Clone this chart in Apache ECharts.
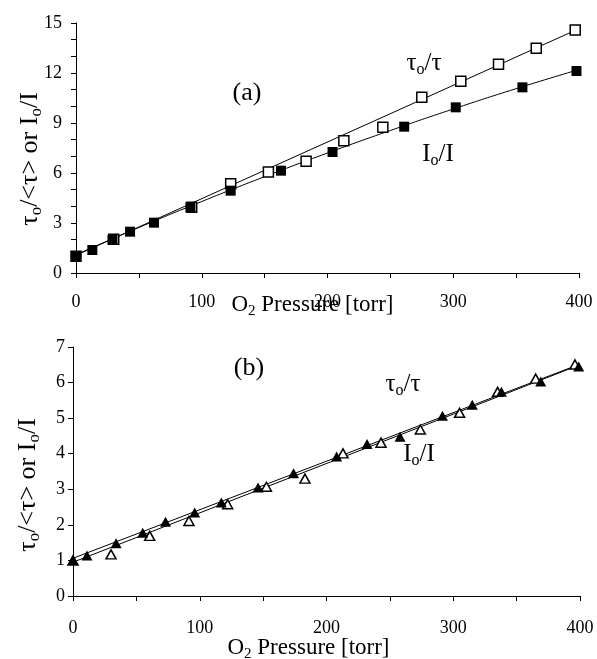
<!DOCTYPE html>
<html>
<head>
<meta charset="utf-8">
<script src="https://cdn.jsdelivr.net/npm/echarts@6/dist/echarts.min.js"></script>
<style>html,body{margin:0;padding:0;background:#fff;}#c{width:597px;height:659px;}</style>
</head>
<body>
<div id="c"></div>
<script>
// Panel (a): squares
var topTauX = [0, 30, 92, 123, 153, 183, 213, 244, 275, 306, 336, 366, 397];
var topTauY = [1.0, 2.02, 3.94, 5.35, 6.06, 6.70, 7.94, 8.74, 10.54, 11.50, 12.52, 13.48, 14.58];
var topIntX = [0, 13, 29, 43, 62, 91, 123, 163, 204, 261, 302, 355, 398];
var topIntY = [1.02, 1.38, 1.98, 2.48, 3.02, 3.94, 4.94, 6.14, 7.26, 8.78, 9.94, 11.14, 12.12];
// fitted curves of panel (a), vertices
var topFitTauX = [0, 400];
var topFitTauY = [1.06, 14.66];
var topFitIntX = [0, 50, 100, 150, 200, 250, 300, 350, 400];
var topFitIntY = [1.10, 2.73, 4.29, 5.78, 7.20, 8.55, 9.84, 11.06, 12.21];

// Panel (b): triangles
var botTauX = [0, 30, 60.5, 91.5, 122, 152.6, 183, 213, 243, 274, 305, 335, 365, 396];
var botTauY = [1.0, 1.17, 1.69, 2.11, 2.58, 3.07, 3.30, 4.01, 4.31, 4.68, 5.15, 5.74, 6.11, 6.51];
var botIntX = [0, 11, 34, 55, 73, 96, 117, 146, 174, 208, 232, 258, 291.5, 315, 338, 369, 399];
var botIntY = [1.01, 1.14, 1.48, 1.78, 2.09, 2.35, 2.63, 3.05, 3.45, 3.92, 4.27, 4.48, 5.07, 5.38, 5.74, 6.03, 6.45];
var botFitIntX = [0, 400];
var botFitIntY = [1.06, 6.52];
var botFitTauX = [0, 400];
var botFitTauY = [0.95, 6.50];

// tick labels
var topYLabels = [0, 3, 6, 9, 12, 15];
var xLabels = [0, 100, 200, 300, 400];

function pairs(xs, ys) { return xs.map(function (x, i) { return [x, ys[i]]; }); }

var FONT = 'Liberation Serif';
function mkRich(fs, sub, lh) {
  return {
    n: { fontFamily: FONT, fontSize: fs, color: '#000', lineHeight: lh, verticalAlign: 'middle' },
    s: { fontFamily: FONT, fontSize: sub, color: '#000', lineHeight: lh, verticalAlign: 'bottom' }
  };
}
var richAxis = mkRich(23, 15, 28);
var richY = mkRich(26, 17, 30);
var richLab = mkRich(25, 16, 29);

function xAxisDef(gi, margin, nameGap, pad) {
  return {
    type: 'value', gridIndex: gi, min: 0, max: 400, interval: 50,
    axisLine: { show: true, onZero: false, lineStyle: { color: '#000', width: 1 } },
    axisTick: { show: true, inside: false, length: 5, lineStyle: { color: '#000' } },
    splitLine: { show: false },
    axisLabel: {
      fontFamily: FONT, fontSize: 18, color: '#000', margin: margin,
      formatter: function (v) { return xLabels.indexOf(v) >= 0 ? String(v) : ''; }
    },
    name: '{n|O}{s|2}{n| Pressure [torr]}',
    nameLocation: 'middle', nameGap: nameGap, nameMoveOverlap: false,
    nameTextStyle: { rich: richAxis, padding: pad }
  };
}

var option = {
  animation: false,
  backgroundColor: '#fff',
  grid: [
    { left: 76, top: 23, width: 503, height: 250, containLabel: false, outerBoundsMode: 'none' },
    { left: 73, top: 347, width: 507, height: 249, containLabel: false, outerBoundsMode: 'none' }
  ],
  xAxis: [
    xAxisDef(0, 20, 18, [0, 30, 0, 0]),
    xAxisDef(1, 23, 38, [0, 36, 0, 0])
  ],
  yAxis: [
    {
      type: 'value', gridIndex: 0, min: 0, max: 15, interval: 1,
      axisLine: { show: true, onZero: false, lineStyle: { color: '#000', width: 1 } },
      axisTick: { show: true, length: 5, lineStyle: { color: '#000' } },
      splitLine: { show: false },
      axisLabel: {
        fontFamily: FONT, fontSize: 18, color: '#000', margin: 14,
        formatter: function (v) { return topYLabels.indexOf(v) >= 0 ? String(v) : ''; }
      }
    },
    {
      type: 'value', gridIndex: 1, min: 0, max: 7, interval: 1,
      axisLine: { show: true, onZero: false, lineStyle: { color: '#000', width: 1 } },
      axisTick: { show: true, length: 5, lineStyle: { color: '#000' } },
      splitLine: { show: false },
      axisLabel: { fontFamily: FONT, fontSize: 18, color: '#000', margin: 8 }
    }
  ],
  graphic: [
    { type: 'text', x: 30, y: 159, rotation: Math.PI / 2,
      style: { text: '{n|τ}{s|o}{n|/<τ> or I}{s|o}{n|/I}', rich: richY, align: 'center', verticalAlign: 'middle' } },
    { type: 'text', x: 28, y: 485, rotation: Math.PI / 2,
      style: { text: '{n|τ}{s|o}{n|/<τ> or I}{s|o}{n|/I}', rich: richY, align: 'center', verticalAlign: 'middle' } },
    { type: 'text', x: 247, y: 93, style: { text: '(a)', font: '26px "Liberation Serif"', fill: '#000', align: 'center', verticalAlign: 'middle' } },
    { type: 'text', x: 249, y: 368, style: { text: '(b)', font: '26px "Liberation Serif"', fill: '#000', align: 'center', verticalAlign: 'middle' } },
    { type: 'text', x: 424, y: 63, style: { text: '{n|τ}{s|o}{n|/τ}', rich: richLab, align: 'center', verticalAlign: 'middle' } },
    { type: 'text', x: 438, y: 154, style: { text: '{n|I}{s|o}{n|/I}', rich: richLab, align: 'center', verticalAlign: 'middle' } },
    { type: 'text', x: 403, y: 384, style: { text: '{n|τ}{s|o}{n|/τ}', rich: richLab, align: 'center', verticalAlign: 'middle' } },
    { type: 'text', x: 419, y: 454, style: { text: '{n|I}{s|o}{n|/I}', rich: richLab, align: 'center', verticalAlign: 'middle' } }
  ],
  series: [
    { name: 'fit τo/τ (a)', type: 'line', xAxisIndex: 0, yAxisIndex: 0, data: pairs(topFitTauX, topFitTauY),
      showSymbol: false, lineStyle: { color: '#000', width: 1 }, z: 1, silent: true },
    { name: 'fit Io/I (a)', type: 'line', xAxisIndex: 0, yAxisIndex: 0, data: pairs(topFitIntX, topFitIntY),
      smooth: true, showSymbol: false, lineStyle: { color: '#000', width: 1 }, z: 1, silent: true },
    { name: 'τo/τ (a)', type: 'scatter', xAxisIndex: 0, yAxisIndex: 0, data: pairs(topTauX, topTauY),
      symbol: 'rect', symbolSize: 10, itemStyle: { color: '#fff', borderColor: '#000', borderWidth: 1.5, opacity: 1 }, z: 3 },
    { name: 'Io/I (a)', type: 'scatter', xAxisIndex: 0, yAxisIndex: 0, data: pairs(topIntX, topIntY),
      symbol: 'rect', symbolSize: 10, itemStyle: { color: '#000', opacity: 1 }, z: 4 },

    { name: 'fit Io/I (b)', type: 'line', xAxisIndex: 1, yAxisIndex: 1, data: pairs(botFitIntX, botFitIntY),
      showSymbol: false, lineStyle: { color: '#000', width: 1 }, z: 1, silent: true },
    { name: 'fit τo/τ (b)', type: 'line', xAxisIndex: 1, yAxisIndex: 1, data: pairs(botFitTauX, botFitTauY),
      showSymbol: false, lineStyle: { color: '#000', width: 1 }, z: 1, silent: true },
    { name: 'τo/τ (b)', type: 'scatter', xAxisIndex: 1, yAxisIndex: 1, data: pairs(botTauX, botTauY),
      symbol: 'triangle', symbolSize: [10, 9], itemStyle: { color: '#fff', borderColor: '#000', borderWidth: 1.5, opacity: 1 }, z: 3 },
    { name: 'Io/I (b)', type: 'scatter', xAxisIndex: 1, yAxisIndex: 1, data: pairs(botIntX, botIntY),
      symbol: 'triangle', symbolSize: [11, 10], itemStyle: { color: '#000', opacity: 1 }, z: 4 }
  ]
};

var chart = echarts.init(document.getElementById('c'), null, { renderer: 'canvas' });
chart.setOption(option);
</script>
</body>
</html>
